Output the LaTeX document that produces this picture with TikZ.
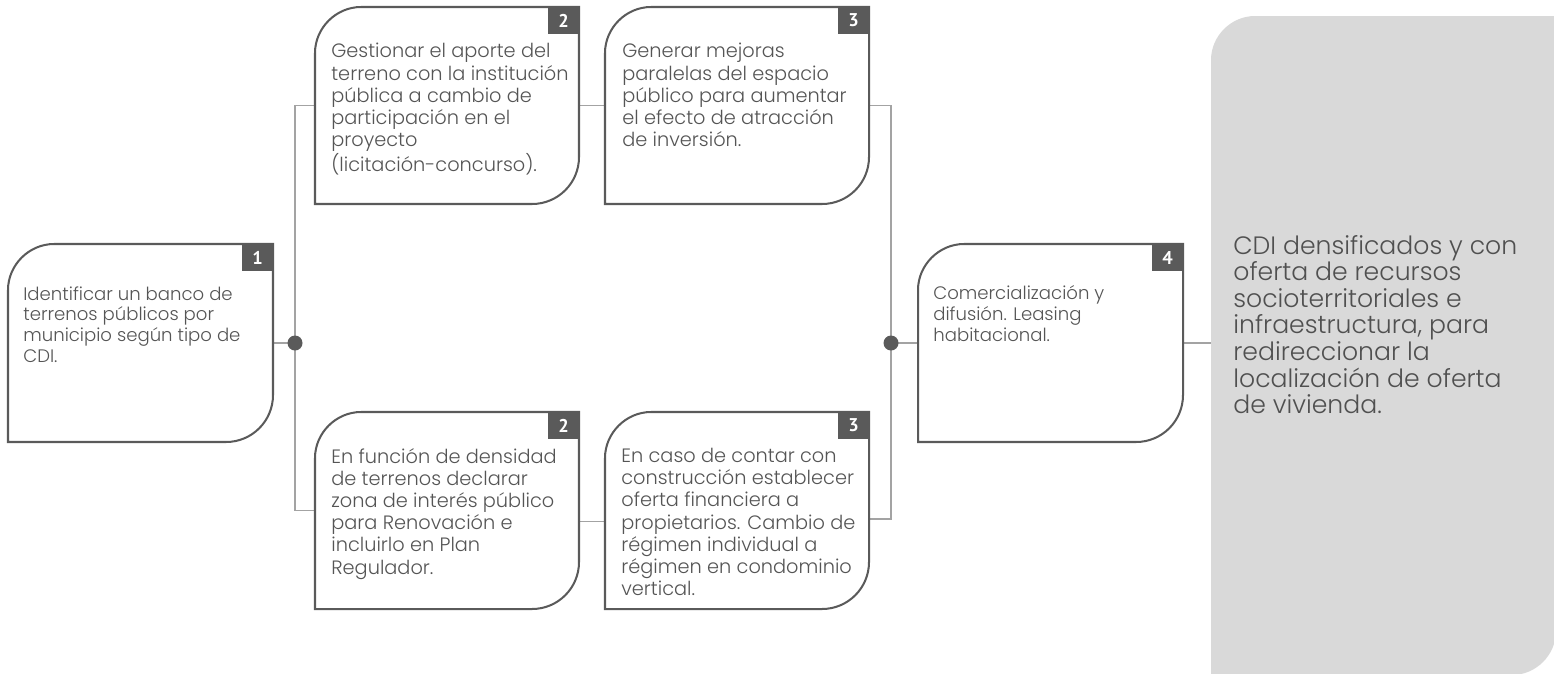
\documentclass[tikz,border=0pt]{standalone}
\usepackage{fontspec}
\setsansfont{Poppins Light}
\newfontfamily\badgefont{PT Sans}
\usetikzlibrary{calc,fit}
\definecolor{boxline}{HTML}{5A5A5A}
\definecolor{connline}{HTML}{A3A3A3}
\definecolor{txt}{HTML}{555555}
\definecolor{badgefill}{HTML}{5A5A5A}
\definecolor{greyfill}{HTML}{D9D9D9}
\definecolor{greytxt}{HTML}{505050}
\newcommand\cdibox[1]{%
  \draw[bxline] (#1.south west) -- ($(#1.north west)+(0,46)$)
    .. controls ($(#1.north west)+(0,21)$) and ($(#1.north west)+(21,0)$) .. ($(#1.north west)+(46,0)$)
    -- (#1.north east) -- ($(#1.south east)+(0,-47)$)
    .. controls ($(#1.south east)+(0,-21)$) and ($(#1.south east)+(-21,0)$) .. ($(#1.south east)+(-47,0)$)
    -- cycle;}
\begin{document}
\begin{tikzpicture}[x=0.02cm,y=-0.02cm,
  frame/.style={inner sep=0pt, outer sep=0pt},
  bxline/.style={draw=boxline, line width=1.15pt, fill=white},
  conn/.style={draw=connline, line width=0.85pt},
  badge/.style={fill=badgefill, text=white, inner sep=0pt, outer sep=0pt,
    minimum width=0.62cm, minimum height=0.54cm, anchor=north east,
    font=\badgefont\bfseries\fontsize{10.5}{10.5}\selectfont},
  bigtxt/.style={anchor=north west, inner sep=0pt, align=left, text=txt,
    font=\sffamily\fontsize{11}{12.6}\selectfont},
  smalltxt/.style={anchor=north west, inner sep=0pt, align=left, text=txt,
    font=\sffamily\fontsize{10.3}{11.9}\selectfont},
  greytext/.style={anchor=north west, inner sep=0pt, align=left, text=greytxt,
    font=\sffamily\fontsize{14.3}{15.1}\selectfont},
  dotnode/.style={circle, fill=badgefill, inner sep=0pt, minimum size=0.3cm}]

\useasboundingbox (0,0) rectangle (1554,673);

% frames
\node[frame, fit={(8,244) (273,442)}] (b1) {};
\node[frame, fit={(315,7) (579,204)}] (b2t) {};
\node[frame, fit={(605,7) (869,204)}] (b3t) {};
\node[frame, fit={(315,412) (579,609)}] (b2b) {};
\node[frame, fit={(605,412) (869,609)}] (b3b) {};
\node[frame, fit={(918,244) (1183,442)}] (b4) {};
\node[frame, fit={(1211,16) (1556,675)}] (g) {};
\coordinate (d1) at (295,343);
\coordinate (d2) at (891,343);

% grey result panel
\fill[greyfill] (g.south west) -- ($(g.north west)+(0,44)$)
  .. controls ($(g.north west)+(0,20)$) and ($(g.north west)+(20,0)$) .. ($(g.north west)+(44,0)$)
  -- (g.north east) -- ($(g.south east)+(0,-44)$)
  .. controls ($(g.south east)+(0,-20)$) and ($(g.south east)+(-20,0)$) .. ($(g.south east)+(-44,0)$)
  -- cycle;

% connectors
\draw[conn] (b1.east) -- (d1);
\draw[conn] (b2t.west) -| (d1) |- (b2b.west);
\draw[conn] (b2t.east) -- (b3t.west);
\draw[conn] ([yshift=-0.22cm]b2b.east) -- ([yshift=-0.22cm]b3b.west);
\draw[conn] (b3t.east) -| (d2) |- ([yshift=-0.17cm]b3b.east);
\draw[conn] (d2) -- (b4.west);
\draw[conn] (b4.east) -- (b4.east -| g.west);

% boxes
\cdibox{b1}
\cdibox{b2t}
\cdibox{b3t}
\cdibox{b2b}
\cdibox{b3b}
\cdibox{b4}

% badges
\node[badge] (n1) at (b1.north east) {1};
\node[badge] (n2t) at (b2t.north east) {2};
\node[badge] (n3t) at (b3t.north east) {3};
\node[badge] (n2b) at (b2b.north east) {2};
\node[badge] (n3b) at (b3b.north east) {3};
\node[badge] (n4) at (b4.north east) {4};

% dots
\node[dotnode] (dot1) at (d1) {};
\node[dotnode] (dot2) at (d2) {};

% texts
\node[smalltxt] (t1) at (23,286) {Identificar un banco de\\terrenos públicos por\\municipio según tipo de\\CDI.};
\node[bigtxt] (t2t) at (331,43) {Gestionar el aporte del\\terreno con la institución\\pública a cambio de\\participación en el\\proyecto\\(licitación-concurso).};
\node[bigtxt] (t3t) at (622,43) {Generar mejoras\\paralelas del espacio\\público para aumentar\\el efecto de atracción\\de inversión.};
\node[bigtxt] (t2b) at (331,448) {En función de densidad\\de terrenos declarar\\zona de interés público\\para Renovación e\\incluirlo en Plan\\Regulador.};
\node[bigtxt] (t3b) at (621,448) {En caso de contar con\\construcción establecer\\oferta financiera a\\propietarios. Cambio de\\régimen individual a\\régimen en condominio\\vertical.};
\node[smalltxt] (t4) at (933,285) {Comercialización y\\difusión. Leasing\\habitacional.};
\node[greytext] (tg) at (1233,235) {CDI densificados y con\\oferta de recursos\\socioterritoriales e\\infraestructura, para\\redireccionar la\\localización de oferta\\de vivienda.};
\end{tikzpicture}
\end{document}
